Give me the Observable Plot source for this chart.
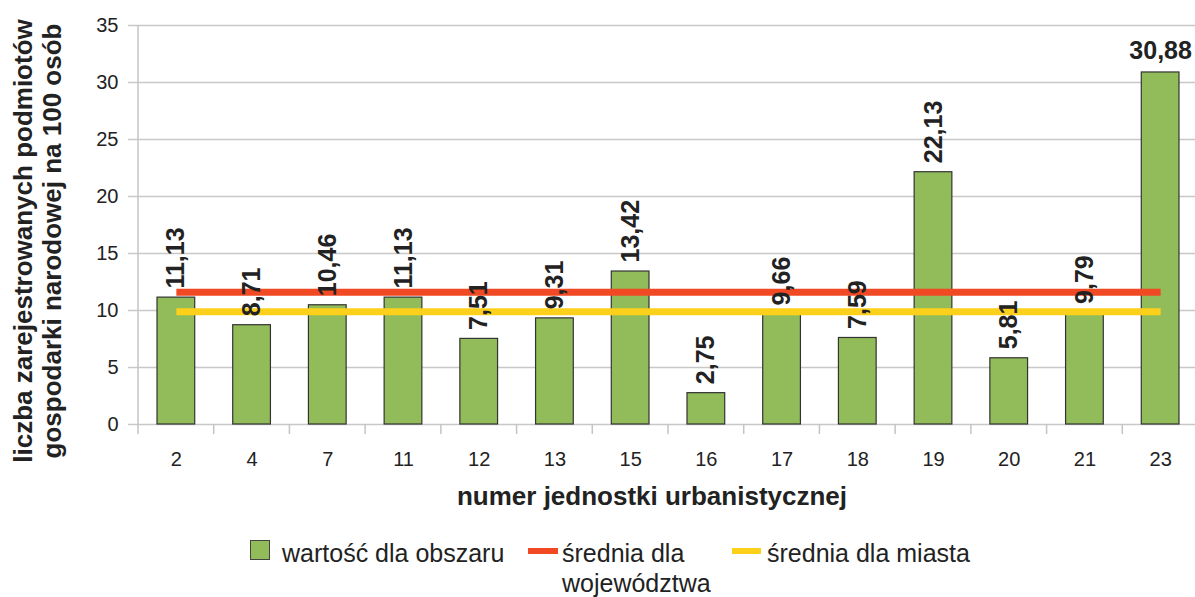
<!DOCTYPE html>
<html><head><meta charset="utf-8">
<script src="https://cdn.jsdelivr.net/npm/d3@7"></script>
<script src="https://cdn.jsdelivr.net/npm/@observablehq/plot@0.6"></script>
<style>
body{margin:0;background:#fff;font-family:"Liberation Sans",Arial,sans-serif;color:#222}
#wrap{position:relative;width:1195px;height:597px;overflow:hidden;background:#fff}
#legend{position:relative;height:72px;font-size:25px}
#legend .t{position:absolute;line-height:30px;white-space:nowrap;color:#222}
#legend .s{position:absolute;box-sizing:border-box}
</style></head><body><div id="wrap"><div id="chart"></div><div id="legend"></div></div>
<script>
const categories = ["2","4","7","11","12","13","15","16","17","18","19","20","21","23"];
const values = [11.13, 8.71, 10.46, 11.13, 7.51, 9.31, 13.42, 2.75, 9.66, 7.59, 22.13, 5.81, 9.79, 30.88];
const regionAverage = 11.6;
const cityAverage = 9.9;
const yTicks = [0, 5, 10, 15, 20, 25, 30, 35];
const horizontalLabels = ["23"];
const seriesNames = ["wartość dla obszaru", "średnia dla\nwojewództwa", "średnia dla miasta"];
const seriesColors = ["#92bc5a", "#f04923", "#fdd11b"];
const xTitle = "numer jednostki urbanistycznej";
const yTitle = "liczba zarejestrowanych podmiotów\ngospodarki narodowej na 100 osób";

const fmt = v => d3.format(".2f")(v).replace(".", ",");
const data = categories.map((c, i) => ({c, v: values[i], label: fmt(values[i])}));
const rotated = data.filter(d => !horizontalLabels.includes(d.c));
const flat = data.filter(d => horizontalLabels.includes(d.c));
const avgLine = v => categories.map(c => ({c, v}));

function frameLines(index, scales) {
  const {x, y} = scales;
  const g = d3.create("svg:g").attr("stroke", "#c4c4c4").attr("stroke-width", 1.5);
  const bw = x.bandwidth ? x.bandwidth() : (x(categories[1]) - x(categories[0]));
  const y0 = y(0), yTop = y(d3.max(yTicks));
  const edges = categories.map(c => x(c)).concat([x(categories[categories.length - 1]) + bw]);
  g.append("line").attr("x1", edges[0]).attr("x2", edges[0]).attr("y1", yTop).attr("y2", y0 + 10);
  for (const e of edges.slice(1)) g.append("line").attr("x1", e).attr("x2", e).attr("y1", y0).attr("y2", y0 + 10);
  return g.node();
}

const chart = Plot.plot({
  width: 1195, height: 525,
  marginLeft: 138, marginRight: 0, marginTop: 25, marginBottom: 101,
  style: {fontFamily: "'Liberation Sans', Arial, sans-serif", fontSize: "20px", color: "#222", background: "#fff", overflow: "visible"},
  x: {domain: categories, range: [138, 1198], padding: 0, round: false, label: null},
  y: {domain: [0, 35], label: null},
  marks: [
    Plot.gridY(yTicks, {stroke: "#c8c8c8", strokeOpacity: 1, strokeWidth: 1.5}),
    Plot.axisY(yTicks, {tickSize: 10, tickPadding: 10, stroke: "#c8c8c8", strokeOpacity: 1, strokeWidth: 1.5, fill: "#222", fontSize: 20, label: null}),
    Plot.axisX({tickSize: 0, tickPadding: 27, fill: "#222", fontSize: 20, label: null}),
    frameLines,
    Plot.barY(data, {x: "c", y: "v", fill: seriesColors[0], stroke: "#333", strokeWidth: 1.2, insetLeft: 19, insetRight: 19}),
    Plot.lineY(avgLine(regionAverage), {x: "c", y: "v", stroke: seriesColors[1], strokeWidth: 7, strokeLinecap: "butt"}),
    Plot.lineY(avgLine(cityAverage), {x: "c", y: "v", stroke: seriesColors[2], strokeWidth: 7, strokeLinecap: "butt"}),
    Plot.text(rotated, {x: "c", y: "v", text: "label", rotate: -90, textAnchor: "start", lineAnchor: "middle", dy: -9, fontSize: 25, fontWeight: "bold", fill: "#222"}),
    Plot.text(flat, {x: "c", y: "v", text: "label", textAnchor: "middle", lineAnchor: "bottom", dy: -13, fontSize: 25, fontWeight: "bold", fill: "#222"}),
    Plot.text([yTitle], {text: d => d, frameAnchor: "left", rotate: -90, dx: -101, dy: 16, textAnchor: "middle", lineAnchor: "middle", lineHeight: 1.1, fontSize: 26, fontWeight: "bold", fill: "#222"}),
    Plot.text([xTitle], {text: d => d, frameAnchor: "bottom", dx: -15, dy: 72, textAnchor: "middle", lineAnchor: "middle", fontSize: 26, fontWeight: "bold", fill: "#222"})
  ]
});
document.getElementById("chart").appendChild(chart);

// legend (HTML, below the SVG)
const legend = d3.select("#legend");
const swatches = [
  {left: 250, top: 15, w: 20, h: 20, border: "1px solid #444"},
  {left: 528, top: 23, w: 30, h: 6, border: "none"},
  {left: 732, top: 23, w: 29, h: 6, border: "none"}
];
const textLefts = [282, 562, 767];
seriesNames.forEach((name, i) => {
  const s = swatches[i];
  legend.append("div").attr("class", "s")
    .style("left", s.left + "px").style("top", s.top + "px")
    .style("width", s.w + "px").style("height", s.h + "px")
    .style("background", seriesColors[i]).style("border", s.border);
  const t = legend.append("div").attr("class", "t")
    .style("left", textLefts[i] + "px").style("top", "13px");
  name.split("\n").forEach((line, j) => { if (j) t.append("br"); t.append("span").text(line); });
});
</script></body></html>
